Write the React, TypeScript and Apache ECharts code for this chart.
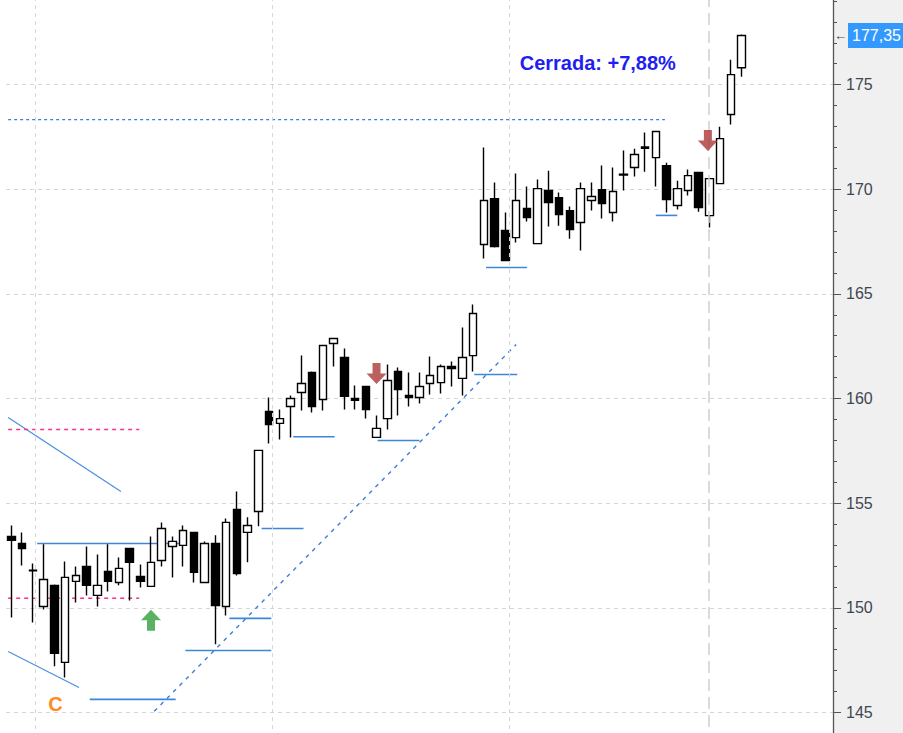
import React, { useEffect, useRef } from "react";
import * as echarts from "echarts";

// ---- candle data (open, close, low, high) ----
const candleOpen = [
  153.41, 153.07, 151.80, 150.06, 151.07, 147.39, 151.26, 151.97, 150.59, 151.74,
  151.21, 152.83, 151.50, 151.02, 152.26, 152.93, 152.98, 153.60, 151.21, 153.07,
  150.06, 154.70, 153.60, 154.60, 159.38, 158.81, 159.62, 160.29, 161.24, 159.95,
  162.63, 161.96, 160.00, 160.57, 158.14, 159.04, 161.29, 160.14, 160.05, 160.72,
  160.76, 161.53, 160.96, 162.05, 167.36, 169.55, 168.03, 167.69, 169.08, 167.40,
  169.94, 169.60, 168.98, 168.41, 169.46, 169.98, 168.89, 170.68, 171.04, 172.02,
  171.51, 171.13, 169.22, 169.94, 170.80, 168.74, 170.27, 173.57, 175.81,
];
const candleClose = [
  153.22, 152.83, 151.76, 151.35, 147.82, 151.45, 151.54, 151.07, 151.07, 151.26,
  151.88, 152.17, 151.26, 152.17, 153.79, 153.17, 153.69, 151.69, 153.07, 150.11,
  154.08, 151.64, 153.93, 157.52, 158.76, 159.04, 160.00, 160.72, 159.62, 162.53,
  162.87, 160.10, 159.91, 159.47, 158.57, 160.86, 160.43, 160.05, 160.57, 161.10,
  161.53, 161.43, 161.96, 164.06, 169.46, 167.26, 166.59, 169.46, 168.65, 170.03,
  169.36, 168.79, 168.07, 170.03, 169.65, 169.32, 169.89, 170.72, 171.66, 171.96,
  172.76, 169.51, 170.03, 170.65, 169.12, 170.51, 172.42, 175.48, 177.35,
];
const candleLow = [
  149.54, 152.02, 149.30, 149.92, 147.20, 146.67, 150.25, 150.59, 150.06, 150.78,
  151.07, 150.35, 150.97, 151.00, 151.97, 151.45, 151.97, 151.21, 151.21, 148.25,
  149.63, 151.54, 152.17, 153.89, 157.85, 158.04, 158.14, 159.43, 159.33, 159.43,
  161.53, 159.47, 159.47, 159.04, 158.12, 158.52, 159.19, 159.62, 159.76, 160.19,
  160.24, 160.57, 160.14, 161.29, 166.69, 167.22, 166.57, 167.45, 168.46, 167.38,
  168.22, 168.26, 167.64, 167.07, 168.98, 168.60, 168.46, 169.94, 170.61, 170.84,
  170.13, 168.89, 169.03, 169.70, 168.93, 168.17, 170.25, 173.09, 175.38,
];
const candleHigh = [
  153.93, 153.60, 152.12, 153.03, 151.11, 152.21, 151.97, 152.93, 152.55, 153.03,
  152.40, 152.86, 152.07, 153.41, 154.08, 153.40, 153.93, 153.62, 153.17, 153.46,
  154.27, 155.56, 154.32, 157.54, 160.05, 159.47, 160.14, 162.05, 161.29, 162.55,
  162.88, 162.39, 160.62, 160.60, 159.19, 161.62, 161.48, 161.24, 161.24, 162.01,
  161.62, 161.77, 163.39, 164.49, 171.99, 170.32, 168.89, 170.75, 170.13, 170.46,
  170.89, 169.84, 169.17, 170.32, 170.32, 171.13, 171.04, 171.85, 171.94, 172.71,
  172.78, 171.27, 170.41, 170.94, 170.84, 170.53, 172.99, 176.19, 177.39,
];
const SLOTS = 77; // visible bar slots (incl. empty space on the right)
const lastPrice = 177.35;
const lastPriceLabel = "177,35";
const yTicks = { min: 140, max: 180, step: 5 };
const closeText = "Cerrada: +7,88%";
const waveLabel = "C";

// annotation segments: [x(bar index), price] pairs
const supportSegments = [
  [[2.4, 153.07], [15.6, 153.07]],
  [[7.3, 145.62], [15.3, 145.62]],
  [[16.2, 147.96], [24.2, 147.96]],
  [[20.3, 149.49], [24.2, 149.49]],
  [[23.3, 153.79], [27.2, 153.79]],
  [[26.25, 158.17], [30.1, 158.17]],
  [[34.1, 157.99], [38.0, 157.99]],
  [[43.1, 161.15], [47.1, 161.15]],
  [[44.2, 166.26], [48.0, 166.26]],
  [[60.0, 168.75], [62.0, 168.75]],
];
const channelSegments = [
  [[-0.3, 159.09], [10.2, 155.56]],
  [[-0.3, 147.91], [6.3, 146.19]],
];
const trendDashed = [[13.3, 145.05], [47.0, 162.58]];
const resistanceDotted = [[-0.3, 173.33], [60.85, 173.33]];
const pinkLevels = [
  [[-0.3, 158.52], [11.9, 158.52]],
  [[-0.3, 150.45], [11.9, 150.45]],
];
const gridXs = [2.2, 24.3, 46.4];
const sessionX = 64.9;
const upArrows = [[13, 149.4]];
const downArrows = [[34, 161.2], [64.85, 172.33]];
const closeTextPos = [54.6, 176.05];
const waveLabelPos = [4.1, 145.38];

const UP_PATH = "path://M10 0 L20 10 L14 10 L14 20 L6 20 L6 10 L0 10 Z";
const DOWN_PATH = "path://M6 0 L14 0 L14 10 L20 10 L10 20 L0 10 L6 10 Z";
const FONT = "'Liberation Sans', Arial, sans-serif";

// vertical framing: 145 sits at y=713 and 175 at y=85 in the 733px view
const PX_PER_UNIT = (713 - 85) / 30;
const INNER_TOP = 713 - (yTicks.max - 145) * PX_PER_UNIT; // negative
const INNER_HEIGHT = (yTicks.max - yTicks.min) * PX_PER_UNIT;

export default function App() {
  const ref = useRef<HTMLDivElement>(null);
  useEffect(() => {
    if (!ref.current) return;
    const chart = echarts.init(ref.current, null, { renderer: "svg" });
    const categories = Array.from({ length: SLOTS }, (_, i) => String(i));
    const ohlc = candleOpen.map((o, i) => [o, candleClose[i], candleLow[i], candleHigh[i]]);

    const seg = (data: number[][], lineStyle: any, z = 3, extra: any = {}) => ({
      type: "line",
      xAxisIndex: 1,
      yAxisIndex: 0,
      data,
      symbol: "none",
      silent: true,
      animation: false,
      lineStyle,
      z,
      ...extra,
    });

    const series: any[] = [
      {
        type: "candlestick",
        xAxisIndex: 0,
        yAxisIndex: 0,
        data: ohlc,
        barWidth: 8,
        z: 4,
        itemStyle: {
          color: "#ffffff",
          color0: "#000000",
          borderColor: "#000000",
          borderColor0: "#000000",
          borderWidth: 1.4,
        },
        markLine: {
          silent: true,
          symbol: ["none", "none"],
          animation: false,
          lineStyle: { color: "rgba(0,0,0,0)", width: 0 },
          data: [{ yAxis: lastPrice }],
          label: {
            show: true,
            position: "end",
            distance: 1,
            opacity: 1,
            formatter: "{a|←}{b|" + lastPriceLabel + "}",
            rich: {
              a: { color: "#444", fontSize: 13, fontFamily: FONT, padding: [0, 1, 0, 0] },
              b: {
                backgroundColor: "#3399ff",
                color: "#ffffff",
                fontSize: 16,
                fontFamily: FONT,
                padding: [5, 4, 4, 4],
              },
            },
          },
        },
      },
      seg(resistanceDotted, { color: "#3a7fd9", width: 1.3, type: [3, 3] }, 3, {
        markLine: {
          silent: true,
          symbol: ["none", "none"],
          animation: false,
          label: { show: false },
          lineStyle: { color: "#d6d6d6", width: 1, type: [4, 4] },
          data: gridXs.map((x) => ({ xAxis: x })),
        },
      }),
      seg(trendDashed, { color: "#3a7fd9", width: 1.4, type: [4, 5] }, 3, {
        markLine: {
          silent: true,
          symbol: ["none", "none"],
          animation: false,
          label: { show: false },
          lineStyle: { color: "#cfcfcf", width: 1.5, type: [12, 6] },
          data: [{ xAxis: sessionX }],
        },
      }),
      ...supportSegments.map((d) => seg(d, { color: "#3d86d8", width: 1.6, type: "solid" })),
      ...channelSegments.map((d) => seg(d, { color: "#4a8fe0", width: 1.2, type: "solid" })),
      ...pinkLevels.map((d) => seg(d, { color: "#ff2f92", width: 1.5, type: [4, 4] })),
      {
        type: "scatter",
        xAxisIndex: 1,
        yAxisIndex: 0,
        data: upArrows,
        symbol: UP_PATH,
        symbolSize: [20, 21],
        silent: true,
        z: 6,
        itemStyle: { color: "rgba(60,165,70,0.85)", opacity: 1 },
      },
      {
        type: "scatter",
        xAxisIndex: 1,
        yAxisIndex: 0,
        data: downArrows,
        symbol: DOWN_PATH,
        symbolSize: [20, 21],
        silent: true,
        z: 6,
        itemStyle: { color: "rgba(170,55,55,0.8)", opacity: 1 },
      },
      {
        type: "scatter",
        xAxisIndex: 1,
        yAxisIndex: 0,
        data: [closeTextPos],
        symbolSize: 1,
        silent: true,
        z: 7,
        itemStyle: { color: "rgba(0,0,0,0)", opacity: 1 },
        label: {
          show: true,
          position: "inside",
          formatter: closeText,
          color: "#1f1ff0",
          opacity: 1,
          fontSize: 20,
          fontWeight: "bold",
          fontFamily: FONT,
        },
      },
      {
        type: "scatter",
        xAxisIndex: 1,
        yAxisIndex: 0,
        data: [waveLabelPos],
        symbolSize: 1,
        silent: true,
        z: 7,
        itemStyle: { color: "rgba(0,0,0,0)", opacity: 1 },
        label: {
          show: true,
          position: "inside",
          formatter: waveLabel,
          color: "#ff8a1e",
          opacity: 1,
          fontSize: 20,
          fontWeight: "bold",
          fontFamily: FONT,
        },
      },
    ];

    chart.setOption({
      animation: false,
      backgroundColor: "#ffffff",
      graphic: [
        {
          type: "rect",
          z: -10,
          silent: true,
          shape: { x: 833, y: 0, width: 70, height: INNER_HEIGHT },
          style: { fill: "#f0f0f0" },
        },
      ],
      grid: {
        left: 6,
        right: 70,
        top: 0,
        bottom: 0,
        containLabel: false,
        outerBoundsMode: "none",
      },
      xAxis: [
        { type: "category", data: categories, boundaryGap: true, show: false },
        { type: "value", min: -0.5, max: SLOTS - 0.5, show: false },
      ],
      yAxis: [
        {
          type: "value",
          position: "right",
          min: yTicks.min,
          max: yTicks.max,
          interval: yTicks.step,
          axisLine: { show: true, onZero: false, lineStyle: { color: "#555", width: 1.3 } },
          axisTick: { show: true, length: 8, lineStyle: { color: "#555" } },
          minorTick: { show: true, splitNumber: 5, length: 4, lineStyle: { color: "#555" } },
          axisLabel: {
            color: "#3f4652",
            fontSize: 16,
            fontFamily: FONT,
            margin: 13,
            showMinLabel: false,
            showMaxLabel: false,
            formatter: (v: number) => String(v),
          },
          splitLine: { show: true, lineStyle: { color: "#d6d6d6", width: 1, type: [4, 4] } },
        },
      ],
      series,
    });
    return () => chart.dispose();
  }, []);
  return (
    <div
      style={{
        position: "absolute",
        left: 0,
        top: 0,
        width: 903,
        height: 733,
        overflow: "hidden",
        background: "#fff",
      }}
    >
      <div
        ref={ref}
        style={{ position: "absolute", left: 0, top: INNER_TOP, width: 903, height: INNER_HEIGHT }}
      />
    </div>
  );
}
